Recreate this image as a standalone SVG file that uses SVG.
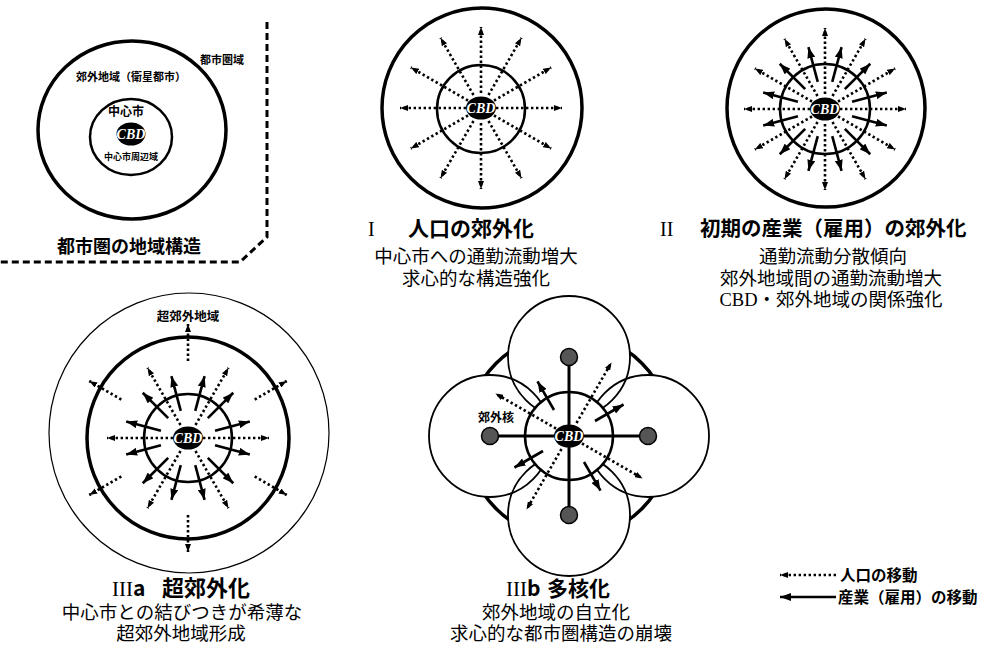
<svg xmlns="http://www.w3.org/2000/svg" xmlns:xlink="http://www.w3.org/1999/xlink" width="988" height="658" viewBox="0 0 988 658">
<style>
.ring{fill:none;stroke:#000}
.wf{fill:#fff;stroke:#000}
.cbd{fill:#000}
.cbdt{fill:#fff;font-family:"Liberation Serif",serif;font-style:italic;font-weight:700;font-size:14px;text-anchor:middle}
.b{font-family:"Noto Sans CJK JP",sans-serif;font-weight:700;fill:#000}
.m{font-family:"Liberation Serif","Noto Sans CJK JP",serif;font-weight:400;fill:#000;text-anchor:middle}
.rn{font-family:"Liberation Serif",serif;fill:#000}
.dot{stroke:#000;stroke-width:2.6;stroke-dasharray:2.4 2.6;fill:none}
.sol{stroke:#000;stroke-width:2.6;fill:none}
.nuc{fill:#555;stroke:#000;stroke-width:1.5}
</style>
<defs>
<marker id="ah" viewBox="0 0 8 6" refX="8" refY="3" markerWidth="8" markerHeight="6" markerUnits="userSpaceOnUse" orient="auto"><path d="M0,0 L8,3 L0,6 z"/></marker>
<marker id="sh" viewBox="0 0 11 8" refX="11" refY="4" markerWidth="11" markerHeight="8" markerUnits="userSpaceOnUse" orient="auto"><path d="M0,0 L11,4 L0,8 z"/></marker>
<line id="d1" class="dot" x1="15" y1="0" x2="81" y2="0" marker-end="url(#ah)"/>
<line id="d2" class="dot" x1="77" y1="0" x2="114" y2="0" marker-end="url(#ah)"/>
<line id="d3" class="dot" x1="15" y1="0" x2="85" y2="0" marker-end="url(#ah)"/>
<line id="s1" class="sol" x1="28" y1="0" x2="64" y2="0" marker-end="url(#sh)"/>
<line id="s2" class="sol" x1="30" y1="0" x2="63" y2="0" marker-end="url(#sh)"/>
</defs>
<rect width="988" height="658" fill="#fff"/>

<!-- Panel: structure -->
<g id="structure">
<ellipse class="ring" cx="132" cy="130" rx="94" ry="89" stroke-width="3.5"/>
<ellipse class="ring" cx="131" cy="137" rx="41" ry="38" stroke-width="2.5"/>
<path d="M267,22 V237 L240,262 H0" fill="none" stroke="#000" stroke-width="3" stroke-dasharray="7 4"/>
<text class="b" x="222" y="64" font-size="11" text-anchor="middle">都市圏域</text>
<text class="b" x="131" y="81" font-size="11" text-anchor="middle">郊外地域（衛星都市）</text>
<text class="b" x="126" y="116" font-size="12" text-anchor="middle">中心市</text>
<text class="b" x="131" y="160" font-size="9" text-anchor="middle">中心市周辺域</text>
<text class="b" x="129" y="253" font-size="18" text-anchor="middle">都市圏の地域構造</text>
</g>

<!-- Panel I rings -->
<g id="panel-I">
<circle class="ring" cx="482" cy="108" r="100" stroke-width="3.5"/>
<circle class="ring" cx="481" cy="109" r="44" stroke-width="2.5"/>
<text class="rn" x="368" y="236" font-size="20">I</text>
<text class="b" x="408" y="236" font-size="21">人口の郊外化</text>
<text class="m" x="476" y="263" font-size="18.5">中心市への通勤流動増大</text>
<text class="m" x="476" y="285" font-size="18.5">求心的な構造強化</text>
</g>

<!-- Panel II rings -->
<g id="panel-II">
<circle class="ring" cx="826" cy="108" r="99" stroke-width="3.5"/>
<circle class="ring" cx="825" cy="109" r="45" stroke-width="2.5"/>
<text class="rn" x="660" y="236" font-size="20">II</text>
<text class="b" x="700" y="236" font-size="20.5">初期の産業（雇用）の郊外化</text>
<text class="m" x="833" y="263" font-size="18.5">通勤流動分散傾向</text>
<text class="m" x="831" y="285" font-size="18.5">郊外地域間の通勤流動増大</text>
<text class="m" x="831" y="306" font-size="18.5">CBD・郊外地域の関係強化</text>
</g>

<!-- Panel IIIa rings -->
<g id="panel-IIIa">
<circle class="ring" cx="189" cy="433" r="140" stroke-width="1.2"/>
<circle class="ring" cx="188" cy="438" r="101" stroke-width="3.5"/>
<circle class="ring" cx="188" cy="438" r="44" stroke-width="2.5"/>
<text class="b" x="188" y="321" font-size="12.5" text-anchor="middle">超郊外地域</text>
<text class="rn" x="112" y="596" font-size="21">III<tspan font-family="Noto Sans CJK JP, sans-serif" font-weight="700">a</tspan></text>
<text class="b" x="162" y="596" font-size="22">超郊外化</text>
<text class="m" x="182" y="619" font-size="18.5">中心市との結びつきが希薄な</text>
<text class="m" x="181" y="640" font-size="18.5">超郊外地域形成</text>
</g>

<!-- Panel IIIb rings -->
<g id="panel-IIIb">
<circle class="ring" cx="569" cy="436" r="103" stroke-width="3.5"/>
<circle cx="569" cy="357" r="61" fill="#fff"/>
<circle cx="569" cy="515" r="61" fill="#fff"/>
<circle cx="490" cy="436" r="61" fill="#fff"/>
<circle cx="648" cy="436" r="61" fill="#fff"/>
<circle class="ring" cx="569" cy="357" r="61" stroke-width="1.8"/>
<circle class="ring" cx="569" cy="515" r="61" stroke-width="1.8"/>
<circle class="ring" cx="490" cy="436" r="61" stroke-width="1.8"/>
<circle class="ring" cx="648" cy="436" r="61" stroke-width="1.8"/>
<circle class="wf" cx="569" cy="436" r="44" stroke-width="2.5"/>
<text class="b" x="496" y="422" font-size="12" text-anchor="middle">郊外核</text>
<text class="rn" x="506" y="596" font-size="21">III<tspan font-family="Noto Sans CJK JP, sans-serif" font-weight="700">b</tspan></text>
<text class="b" x="547" y="596" font-size="21">多核化</text>
<text class="m" x="556" y="619" font-size="18.5">郊外地域の自立化</text>
<text class="m" x="561" y="640" font-size="18.5">求心的な都市圏構造の崩壊</text>
</g>

<!-- Connectors -->
<g id="connectors">
<g transform="translate(481,108)">
<use href="#d1"/><use href="#d1" transform="rotate(30)"/><use href="#d1" transform="rotate(60)"/><use href="#d1" transform="rotate(90)"/><use href="#d1" transform="rotate(120)"/><use href="#d1" transform="rotate(150)"/><use href="#d1" transform="rotate(180)"/><use href="#d1" transform="rotate(210)"/><use href="#d1" transform="rotate(240)"/><use href="#d1" transform="rotate(270)"/><use href="#d1" transform="rotate(300)"/><use href="#d1" transform="rotate(330)"/>
</g>
<g transform="translate(825,109)">
<use href="#d1"/><use href="#d1" transform="rotate(30)"/><use href="#d1" transform="rotate(60)"/><use href="#d1" transform="rotate(90)"/><use href="#d1" transform="rotate(120)"/><use href="#d1" transform="rotate(150)"/><use href="#d1" transform="rotate(180)"/><use href="#d1" transform="rotate(210)"/><use href="#d1" transform="rotate(240)"/><use href="#d1" transform="rotate(270)"/><use href="#d1" transform="rotate(300)"/><use href="#d1" transform="rotate(330)"/>
<use href="#s1" transform="rotate(15)"/><use href="#s1" transform="rotate(45)"/><use href="#s1" transform="rotate(75)"/><use href="#s1" transform="rotate(105)"/><use href="#s1" transform="rotate(135)"/><use href="#s1" transform="rotate(165)"/><use href="#s1" transform="rotate(195)"/><use href="#s1" transform="rotate(225)"/><use href="#s1" transform="rotate(255)"/><use href="#s1" transform="rotate(285)"/><use href="#s1" transform="rotate(315)"/><use href="#s1" transform="rotate(345)"/>
</g>
<g transform="translate(188,438)">
<use href="#d1"/><use href="#d1" transform="rotate(60)"/><use href="#d1" transform="rotate(120)"/><use href="#d1" transform="rotate(180)"/><use href="#d1" transform="rotate(240)"/><use href="#d1" transform="rotate(300)"/>
<use href="#d2" transform="rotate(30)"/><use href="#d2" transform="rotate(90)"/><use href="#d2" transform="rotate(150)"/><use href="#d2" transform="rotate(210)"/><use href="#d2" transform="rotate(270)"/><use href="#d2" transform="rotate(330)"/>
<use href="#s1" transform="rotate(15)"/><use href="#s1" transform="rotate(45)"/><use href="#s1" transform="rotate(75)"/><use href="#s1" transform="rotate(105)"/><use href="#s1" transform="rotate(135)"/><use href="#s1" transform="rotate(165)"/><use href="#s1" transform="rotate(195)"/><use href="#s1" transform="rotate(225)"/><use href="#s1" transform="rotate(255)"/><use href="#s1" transform="rotate(285)"/><use href="#s1" transform="rotate(315)"/><use href="#s1" transform="rotate(345)"/>
</g>
<g transform="translate(569,436)">
<line x1="-79" y1="0" x2="79" y2="0" stroke="#000" stroke-width="3"/>
<line x1="0" y1="-79" x2="0" y2="79" stroke="#000" stroke-width="3"/>
<use href="#d3" transform="rotate(30)"/><use href="#d3" transform="rotate(120)"/><use href="#d3" transform="rotate(210)"/><use href="#d3" transform="rotate(300)"/>
<use href="#s2" transform="rotate(60)"/><use href="#s2" transform="rotate(150)"/><use href="#s2" transform="rotate(240)"/><use href="#s2" transform="rotate(330)"/>
</g>
<line class="dot" x1="836" y1="575" x2="780" y2="575" marker-end="url(#ah)"/>
<line class="sol" x1="836" y1="597" x2="780" y2="597" marker-end="url(#sh)"/>
</g>

<!-- CBD nodes -->
<g id="cbd-structure"><ellipse class="cbd" cx="131" cy="134" rx="14.5" ry="11.5"/><text class="cbdt" x="131" y="139">CBD</text></g>
<g id="cbd-I"><ellipse class="cbd" cx="481" cy="108" rx="15" ry="11.5"/><text class="cbdt" x="481" y="113">CBD</text></g>
<g id="cbd-II"><ellipse class="cbd" cx="825" cy="109" rx="15" ry="11.5"/><text class="cbdt" x="825" y="114">CBD</text></g>
<g id="cbd-IIIa"><ellipse class="cbd" cx="188" cy="438" rx="15" ry="11.5"/><text class="cbdt" x="188" y="443">CBD</text></g>
<g id="cbd-IIIb"><ellipse class="cbd" cx="569" cy="436" rx="15" ry="11.5"/><text class="cbdt" x="569" y="441">CBD</text></g>

<!-- Suburban nuclei -->
<g id="nucleus-top"><circle class="nuc" cx="569" cy="357" r="8.5"/></g>
<g id="nucleus-bottom"><circle class="nuc" cx="569" cy="515" r="8.5"/></g>
<g id="nucleus-left"><circle class="nuc" cx="490" cy="436" r="8.5"/></g>
<g id="nucleus-right"><circle class="nuc" cx="648" cy="436" r="8.5"/></g>

<!-- Legend -->
<g id="legend">
<text class="b" x="840" y="581" font-size="15.5">人口の移動</text>
<text class="b" x="838" y="603" font-size="15.5">産業（雇用）の移動</text>
</g>
</svg>
